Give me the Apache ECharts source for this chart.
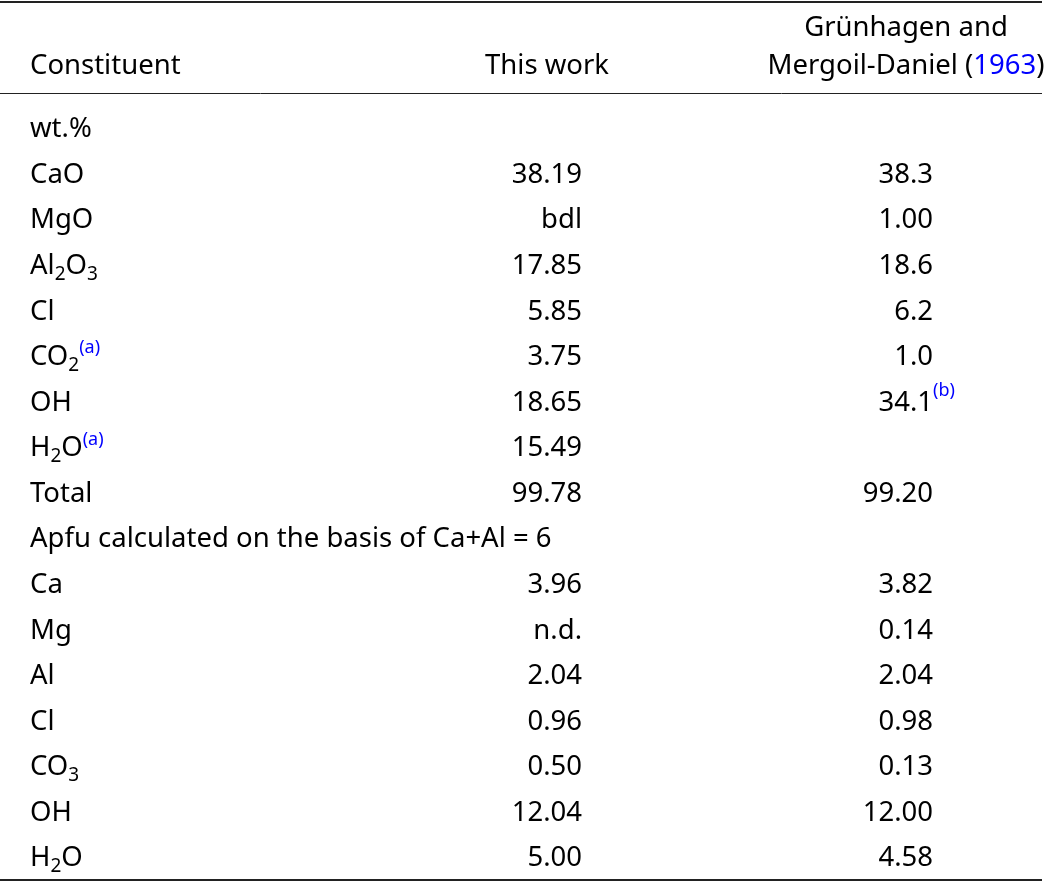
<!DOCTYPE html>
<html>
  <head>
    <meta charset="utf-8" />
    <title>Constituent table</title>
    <script src="https://cdn.jsdelivr.net/npm/echarts@6/dist/echarts.min.js"></script>
    <style>
      * {
        padding: 0;
        margin: 0;
      }
      #chart-panel {
        width: 1045px;
        height: 883px;
        background: #fff;
      }
    </style>
  </head>
  <body>
    <div id="chart-panel"></div>
    <script type="text/javascript">
      var myChart = echarts.init(document.getElementById("chart-panel"));

      // ---- table content ----
      // first column, rich markup: {sub|..} subscript, {sup|..} footnote mark
      const constituents = [
        "wt.%",
        "CaO",
        "MgO",
        "Al{sub|2}O{sub|3}",
        "Cl",
        "CO{sub|2}{sup|(a)}",
        "OH",
        "H{sub|2}O{sup|(a)}",
        "Total",
        "Apfu calculated on the basis of Ca+Al = 6",
        "Ca",
        "Mg",
        "Al",
        "Cl",
        "CO{sub|3}",
        "OH",
        "H{sub|2}O",
      ];
      const thisWork = [
        "", "38.19", "bdl", "17.85", "5.85", "3.75", "18.65", "15.49", "99.78",
        "", "3.96", "n.d.", "2.04", "0.96", "0.50", "12.04", "5.00",
      ];
      const gm1963 = [
        "", "38.3", "1.00", "18.6", "6.2", "1.0", "34.1", "", "99.20",
        "", "3.82", "0.14", "2.04", "0.98", "0.13", "12.00", "4.58",
      ];
      const gm1963Notes = ["", "", "", "", "", "", "(b)", "", "", "", "", "", "", "", "", "", ""];
      const headers = ["Constituent", "This work", "Grünhagen and", "Mergoil-Daniel ({link|1963})"];

      // ---- layout (pixels / row units) ----
      var colLeft = 30; // first column, left aligned
      var col2Right = 582;
      var col3Right = 933;
      var head2Center = 547;
      var head3Center = 906;
      var headLine1 = -2.22;
      var headLine2 = -1.4;
      var rules = [
        { yAxis: -2.798, w: 2 },
        { yAxis: -0.801, w: 1 },
        { yAxis: 16.473, w: 2 },
      ];

      var font = "Noto Sans";
      var fs = 27.5;
      var ink = "#000";
      var blue = "#0000ff";
      var rich = {
        sub: { fontSize: 19, lineHeight: 16, verticalAlign: "bottom", fontFamily: font, color: ink },
        sup: { fontSize: 18, lineHeight: 30, verticalAlign: "top", fontFamily: font, color: blue },
        link: { fontSize: fs, fontFamily: font, color: blue },
      };

      function textSeries(points, position, offset) {
        return {
          type: "scatter",
          symbolSize: 0,
          silent: true,
          itemStyle: { opacity: 1 },
          data: points,
          label: {
            show: true,
            position: position,
            distance: 0,
            offset: offset || [0, 0],
            formatter: function (p) {
              return p.data[2];
            },
            fontFamily: font,
            fontSize: fs,
            lineHeight: 36,
            color: ink,
            opacity: 1,
            rich: rich,
          },
        };
      }

      var firstCol = constituents.map(function (t, i) { return [colLeft, i, t]; });
      var secondCol = thisWork.map(function (t, i) { return [col2Right, i, t]; }).filter(function (d) { return d[2]; });
      var thirdCol = gm1963.map(function (t, i) { return [col3Right, i, t]; }).filter(function (d) { return d[2]; });
      var notes = gm1963Notes
        .map(function (t, i) { return [col3Right, i, t ? "{sup|" + t + "}" : ""]; })
        .filter(function (d) { return d[2]; });

      option = {
        animation: false,
        grid: { left: 0, right: 3, top: 0, bottom: 0 },
        xAxis: { type: "value", min: 0, max: 1042, show: false },
        yAxis: { type: "value", inverse: true, min: -2.842, max: 16.538, show: false },
        series: [
          textSeries(firstCol.concat([[colLeft, headLine2, headers[0]]]), "right"),
          textSeries(secondCol, "left"),
          textSeries(thirdCol, "left"),
          textSeries(notes, "right", [0, -6]),
          textSeries(
            [
              [head2Center, headLine2, headers[1]],
              [head3Center, headLine1, headers[2]],
              [head3Center, headLine2, headers[3]],
            ],
            "inside"
          ),
          {
            type: "line",
            data: [],
            markLine: {
              silent: true,
              symbol: "none",
              label: { show: false },
              data: rules.map(function (r) {
                return { yAxis: r.yAxis, lineStyle: { width: r.w, color: "#222", type: "solid" } };
              }),
            },
          },
        ],
      };

      myChart.setOption(option);
    </script>
  </body>
</html>
